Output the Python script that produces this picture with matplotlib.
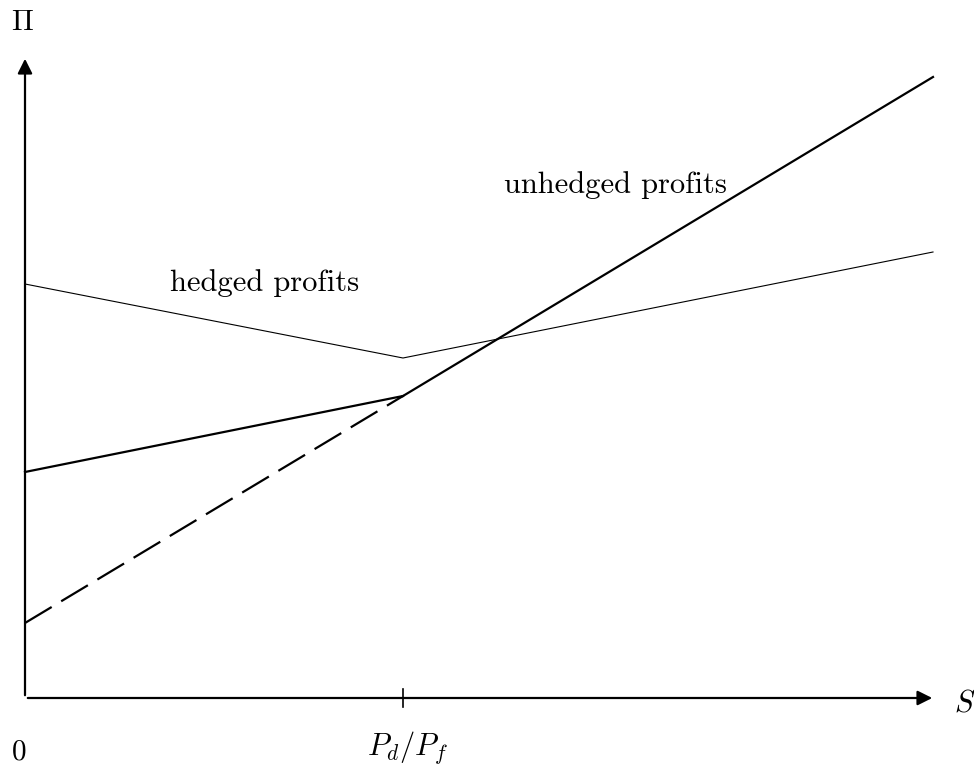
import matplotlib.pyplot as plt
import numpy as np

plt.rcParams['font.family'] = 'serif'
plt.rcParams['font.serif'] = ['cmr10']
plt.rcParams['mathtext.fontset'] = 'cm'
plt.rcParams['axes.unicode_minus'] = False

#------------ data (exchange rate S vs profit) ------------
s_pts = [0, 378, 908]
hedged = [413, 339, 445]
unhedged_low = [225, 301]
unhedged_high = [301, 620]
unhedged_dash = [74, 301]
s_break = 378

fig = plt.figure(figsize=(9.74, 7.67), dpi=100)
ax = fig.add_axes([0, 0, 1, 1])
ax.set_xlim(-25, 949)
ax.set_ylim(-70, 697)
ax.axis('off')

# axes with arrows
ax.annotate('', xy=(910, -1), xytext=(0, -1),
            arrowprops=dict(arrowstyle='-|>', lw=1.6, color='black', mutation_scale=22))
ax.annotate('', xy=(0, 641), xytext=(0, -1),
            arrowprops=dict(arrowstyle='-|>', lw=1.6, color='black', mutation_scale=22))
ax.plot([s_break, s_break], [-10, 8], color='black', lw=1.2)

# curves
ax.plot(s_pts, hedged, color='black', lw=0.8)
ax.plot(s_pts[:2], unhedged_low, color='black', lw=1.6)
ax.plot(s_pts[1:], unhedged_high, color='black', lw=1.6)
ax.plot(s_pts[:2], unhedged_dash, color='black', lw=1.6, dashes=(14, 5))

# labels
ax.text(240, 414, 'hedged profits', fontsize=22, ha='center', va='center')
ax.text(590, 512, 'unhedged profits', fontsize=22, ha='center', va='center')
ax.text(-3, 674, r'$\Pi$', fontsize=21, ha='center', va='center')
ax.text(940, -7, r'$S$', fontsize=22, ha='center', va='center')
ax.text(-6, -55, '0', fontsize=21, ha='center', va='center')
ax.text(383, -51, r'$P_d/P_f$', fontsize=22, ha='center', va='center')

plt.savefig('out.png', dpi=100)
